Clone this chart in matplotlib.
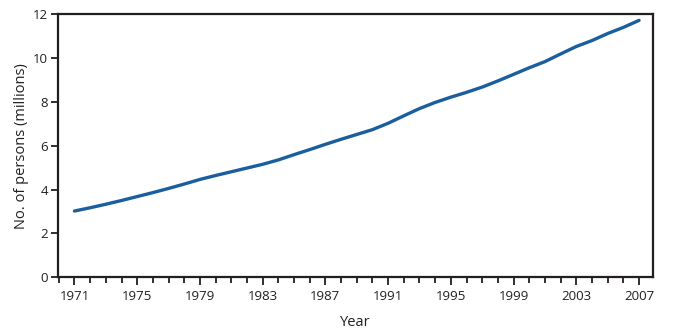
import matplotlib
matplotlib.use("Agg")
import matplotlib.pyplot as plt
from matplotlib.ticker import MultipleLocator

plt.rcParams['font.family'] = ['Open Sans', 'DejaVu Sans']

years = list(range(1971, 2008))
persons_millions = [3.02, 3.17, 3.33, 3.50, 3.68, 3.86, 4.05, 4.25, 4.46, 4.64,
                    4.81, 4.98, 5.15, 5.35, 5.59, 5.82, 6.06, 6.29, 6.51, 6.73,
                    7.02, 7.36, 7.69, 7.97, 8.21, 8.43, 8.67, 8.95, 9.25, 9.55,
                    9.83, 10.18, 10.52, 10.79, 11.11, 11.39, 11.71]
x_tick_labels = [str(y) for y in range(1971, 2008, 4)]
y_ticks = [0, 2, 4, 6, 8, 10, 12]

ink = '#231f20'
fig = plt.figure(figsize=(6.75, 3.35), dpi=100)
ax = fig.add_axes([58/675, 1 - 277.3/335, (652.7 - 58)/675, (277.3 - 14)/335])

ax.plot(years, persons_millions, color='#1b5e9e', lw=2.4,
        solid_capstyle='round', solid_joinstyle='round')

ax.set_xlim(1969.95, 2007.87)
ax.set_ylim(0, 12)
ax.set_xticks(range(1971, 2008, 4))
ax.set_xticklabels(x_tick_labels)
ax.xaxis.set_minor_locator(MultipleLocator(1))
ax.set_yticks(y_ticks)

for s in ax.spines.values():
    s.set_linewidth(1.6)
    s.set_color(ink)

ax.tick_params(axis='x', which='major', length=6, width=1.3, color=ink,
               labelsize=9.5, labelcolor=ink, pad=3)
ax.tick_params(axis='x', which='minor', length=4, width=1.3, color=ink)
ax.tick_params(axis='y', which='major', length=5, width=1.3, color=ink,
               labelsize=9.5, labelcolor=ink, pad=2)

ax.set_xlabel('Year', fontsize=10.5, color=ink, labelpad=9)
ax.set_ylabel('No. of persons (millions)', fontsize=10.5, color=ink, labelpad=3)

fig.savefig('out.png', dpi=100)
